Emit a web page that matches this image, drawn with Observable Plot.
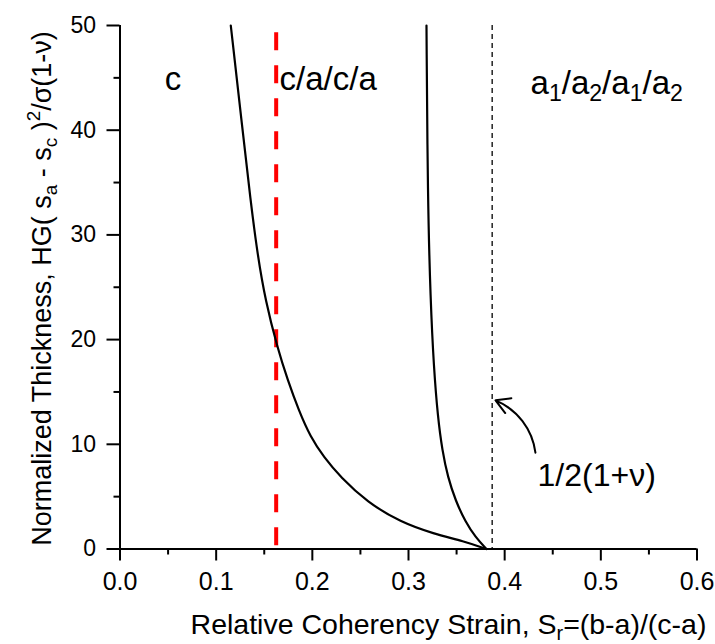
<!DOCTYPE html>
<html><head><meta charset="utf-8">
<script src="https://cdn.jsdelivr.net/npm/d3@7"></script>
<script src="https://cdn.jsdelivr.net/npm/@observablehq/plot@0.6"></script>
<style>body{margin:0;background:#fff} svg{display:block}</style>
</head><body><div id="chart"></div>
<script>
// ---- data ----
const curve1X = [0.1152, 0.1275, 0.1357, 0.1432, 0.1513, 0.1635, 0.1745, 0.1859, 0.1981, 0.2120, 0.2293, 0.2571, 0.2917, 0.3263, 0.3575, 0.3810];
const curve1Y = [50, 40, 33.3, 28.0, 23.7, 19.27, 16.09, 13.23, 10.68, 8.77, 6.86, 4.47, 2.56, 1.45, 0.74, 0];
const curve2X = [0.3187, 0.3200, 0.3229, 0.3263, 0.3305, 0.3351, 0.3409, 0.3489, 0.3593, 0.3697, 0.3810];
const curve2Y = [50, 33.3, 23.73, 17.36, 12.59, 9.41, 6.86, 4.63, 2.56, 1.13, 0];
const redLineX = 0.1624;
const boundaryX = 0.387;
const xTicks = [0, 0.1, 0.2, 0.3, 0.4, 0.5, 0.6];
const xMinorTicks = [0.05, 0.15, 0.25, 0.35, 0.45, 0.55];
const yTicks = [0, 10, 20, 30, 40, 50];
const yMinorTicks = [5, 15, 25, 35, 45];
const regionLabels = ["c", "c/a/c/a", "a_1/a_2/a_1/a_2"];
const regionLabelX = [0.0551, 0.1659, 0.4269];
const regionLabelY = [43.8, 43.8, 43.5];
const noteLabel = "1/2(1+ν)";
const noteX = 0.4342, noteY = 6.06;
const arrowFromX = 0.432, arrowFromY = 9.2;
const arrowToX = 0.3905, arrowToY = 14.2;
const xTitle = "Relative Coherency Strain, S_r=(b-a)/(c-a)";
const yTitle = "Normalized Thickness, HG( s_a - s_c )^2/σ(1-ν)";

const curve1 = curve1X.map((x, i) => ({x, y: curve1Y[i]}));
const curve2 = curve2X.map((x, i) => ({x, y: curve2Y[i]}));

const font = "Liberation Sans, Arial, Helvetica, sans-serif";

const plot = Plot.plot({
  width: 715,
  height: 644,
  marginLeft: 119.5,
  marginRight: 18.5,
  marginTop: 25,
  marginBottom: 95.5,
  style: {fontFamily: font, background: "#fff", color: "#000"},
  x: {domain: [0, 0.6]},
  y: {domain: [0, 50]},
  marks: [
    Plot.ruleX([redLineX], {x: d => d, y1: 49.3, y2: 0, stroke: "#ff0000", strokeWidth: 4, strokeDasharray: "18,15"}),
    Plot.ruleX([boundaryX], {x: d => d, y1: 50, y2: 0, stroke: "#000", strokeWidth: 1.3, strokeDasharray: "5,4"}),
    Plot.line(curve1, {x: "x", y: "y", curve: "basis", stroke: "#000", strokeWidth: 2.2}),
    Plot.line(curve2, {x: "x", y: "y", curve: "basis", stroke: "#000", strokeWidth: 2.2}),
    Plot.ruleY([0], {stroke: "#000", strokeWidth: 2}),
    Plot.ruleX([0], {stroke: "#000", strokeWidth: 2}),
    Plot.axisX({ticks: xTicks, tickFormat: d3.format(".1f"), tickSize: 12, tickPadding: 11, fontSize: 25, strokeWidth: 2, label: null}),
    Plot.axisX({ticks: xMinorTicks, tickFormat: () => "", tickSize: 6, strokeWidth: 2, label: null}),
    Plot.axisY({ticks: yTicks, tickSize: 13, tickPadding: 11, fontSize: 23, strokeWidth: 2, label: null}),
    Plot.axisY({ticks: yMinorTicks, tickFormat: () => "", tickSize: 6, strokeWidth: 2, label: null}),
    Plot.text([regionLabels[0]], {x: () => regionLabelX[0], y: () => regionLabelY[0], text: d => d, textAnchor: "middle", lineAnchor: "bottom", fontSize: 33, fill: "#000"}),
    Plot.text([regionLabels[1]], {x: () => regionLabelX[1], y: () => regionLabelY[1], text: d => d, textAnchor: "start", lineAnchor: "bottom", fontSize: 33, fill: "#000"}),
    Plot.text([regionLabels[2]], {x: () => regionLabelX[2], y: () => regionLabelY[2], text: d => d, textAnchor: "start", lineAnchor: "bottom", fontSize: 33, fill: "#000"}),
    Plot.text([noteLabel], {x: () => noteX, y: () => noteY, text: d => d, textAnchor: "start", lineAnchor: "bottom", fontSize: 32, fill: "#000"}),
    Plot.arrow([0], {x1: () => arrowFromX, y1: () => arrowFromY, x2: () => arrowToX, y2: () => arrowToY, bend: -30, headLength: 12, strokeWidth: 2, stroke: "#000"}),
    Plot.text([xTitle], {x: () => 0.3416, frameAnchor: "bottom", dy: 84.5, text: d => d, textAnchor: "middle", lineAnchor: "bottom", fontSize: 28.5, fill: "#000"}),
    Plot.text([yTitle], {y: () => 24.88, frameAnchor: "left", dx: -77.5, rotate: -90, text: d => d, textAnchor: "middle", lineAnchor: "middle", fontSize: 27, fill: "#000"})
  ]
});

// turn _x / ^x markup into sub/superscript tspans
function rich(el) {
  const str = el.textContent;
  if (!/[_^]/.test(str)) return;
  const size = parseFloat(getComputedStyle(el).fontSize) || 20;
  el.textContent = "";
  const re = /([_^])(\{[^}]*\}|.)/g;
  let last = 0, m, pending = 0;
  const addNormal = (t) => {
    if (!t) return;
    const ts = document.createElementNS("http://www.w3.org/2000/svg", "tspan");
    if (pending) { ts.setAttribute("dy", pending); pending = 0; }
    ts.textContent = t;
    el.appendChild(ts);
  };
  while ((m = re.exec(str))) {
    addNormal(str.slice(last, m.index));
    let t = m[2]; if (t[0] === "{") t = t.slice(1, -1);
    const ts = document.createElementNS("http://www.w3.org/2000/svg", "tspan");
    const shift = m[1] === "_" ? 0.22 * size : -0.4 * size;
    ts.setAttribute("dy", shift + pending);
    ts.setAttribute("font-size", 0.7 * size);
    ts.textContent = t;
    el.appendChild(ts);
    pending = -shift;
    last = m.index + m[0].length;
  }
  addNormal(str.slice(last));
}
document.getElementById("chart").appendChild(plot);
d3.select(plot).selectAll("text").filter(function () { return this.textContent === ""; }).remove();
d3.select(plot).selectAll("text").each(function () { rich(this); });
</script>
</body></html>
